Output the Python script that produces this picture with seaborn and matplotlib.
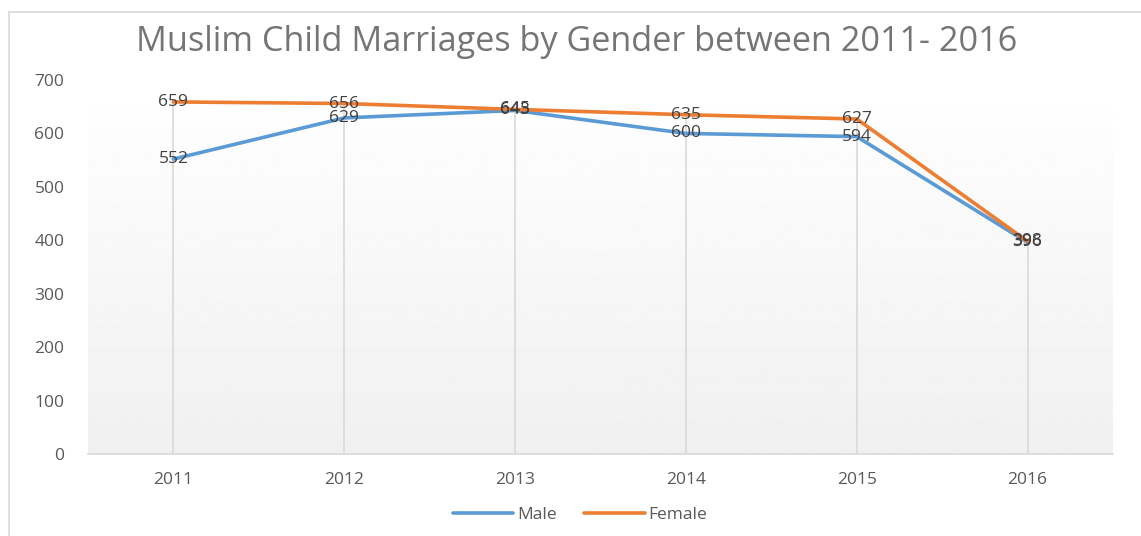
import matplotlib
matplotlib.use("Agg")
import matplotlib.pyplot as plt
from matplotlib.lines import Line2D
import numpy as np
import pandas as pd
import seaborn as sns

years = ["2011", "2012", "2013", "2014", "2015", "2016"]
male = [552, 629, 643, 600, 594, 396]
female = [659, 656, 645, 635, 627, 398]
title = "Muslim Child Marriages by Gender between 2011- 2016"

df = pd.DataFrame({
    "Year": years * 2,
    "Count": male + female,
    "Gender": ["Male"] * len(years) + ["Female"] * len(years),
})

sns.set_theme(style="white")
plt.rcParams["font.family"] = ["Open Sans", "DejaVu Sans"]

fig = plt.figure(figsize=(11.41, 5.36), dpi=100)
ax = fig.add_axes([88 / 1141, 1 - 454 / 536, (1113 - 88) / 1141, (454 - 80) / 536])

# gradient plot area, white at top to light grey at bottom
grad = np.linspace(0.94, 1.0, 256).reshape(-1, 1)
ax.imshow(grad, extent=[-0.5, 5.5, 0, 700], origin="lower", aspect="auto",
          cmap="gray", vmin=0, vmax=1, zorder=0)

# drop lines
x = np.arange(len(years))
tops = np.maximum(male, female)
ax.vlines(x, 0, tops, color="#d9d9d9", lw=1.2, zorder=1)

palette = {"Male": "#5B9BD5", "Female": "#ED7D31"}
sns.lineplot(data=df, x="Year", y="Count", hue="Gender", palette=palette,
             lw=2.6, ax=ax, legend=False, zorder=3, sort=False)

for i in range(len(years)):
    ax.text(i, male[i], str(male[i]), ha="center", va="center",
            fontsize=12.5, color="#404040", zorder=4)
    ax.text(i, female[i], str(female[i]), ha="center", va="center",
            fontsize=12.5, color="#404040", zorder=4)

ax.set_xlim(-0.5, 5.5)
ax.set_ylim(0, 700)
ax.set_yticks(range(0, 701, 100))
ax.set_xlabel("")
ax.set_ylabel("")
for s in ["top", "right", "left"]:
    ax.spines[s].set_visible(False)
ax.spines["bottom"].set_color("#d9d9d9")
ax.spines["bottom"].set_linewidth(1.2)
ax.tick_params(axis="both", length=0, labelsize=12.5, colors="#595959")
ax.tick_params(axis="x", pad=13)
ax.tick_params(axis="y", pad=17)

fig.text(577 / 1141, 1 - 42 / 536, title, ha="center", va="center",
         fontsize=24.7, color="#757575")

handles = [Line2D([0], [0], color=palette["Male"], lw=2.6),
           Line2D([0], [0], color=palette["Female"], lw=2.6)]
fig.legend(handles, ["Male", "Female"], loc="center", ncol=2,
           bbox_to_anchor=(580 / 1141, 1 - 515 / 536), frameon=False,
           fontsize=12.5, labelcolor="#595959", handlelength=3.5,
           handletextpad=0.2, columnspacing=1.6)

# chart border lines
fig.add_artist(Line2D([9 / 1141, 1], [1 - 12 / 536, 1 - 12 / 536],
                      color="#d9d9d9", lw=1.2, transform=fig.transFigure))
fig.add_artist(Line2D([9 / 1141, 9 / 1141], [0, 1 - 12 / 536],
                      color="#d9d9d9", lw=1.2, transform=fig.transFigure))

fig.savefig("out.png", dpi=100)
